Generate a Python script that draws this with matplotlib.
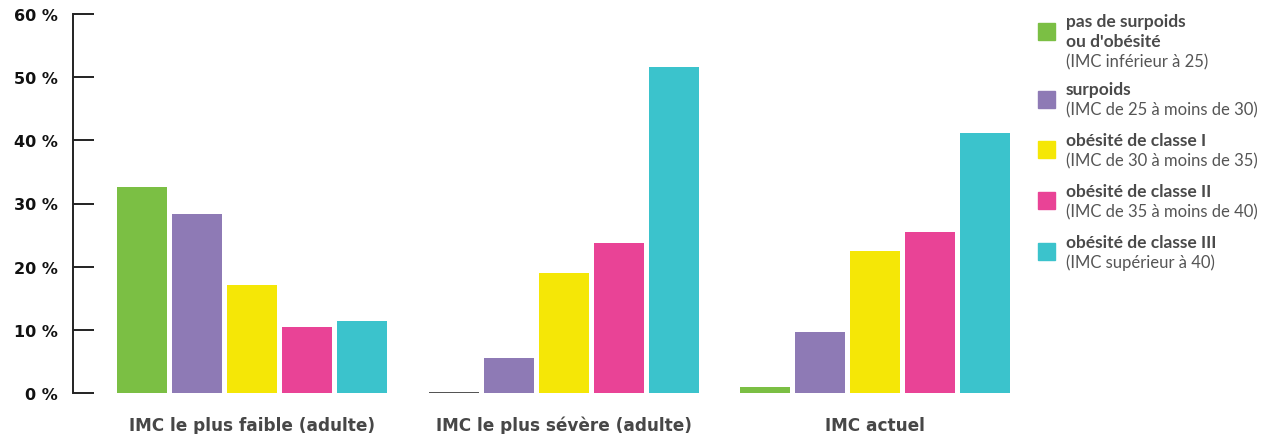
import numpy as np
import matplotlib.pyplot as plt
from matplotlib.patches import Rectangle

# ---- data ------------------------------------------------------------
groups = ["IMC le plus faible (adulte)", "IMC le plus sévère (adulte)", "IMC actuel"]
series_bold = ["pas de surpoids\nou d'obésité", "surpoids", "obésité de classe I",
               "obésité de classe II", "obésité de classe III"]
series_sub = ["(IMC inférieur à 25)", "(IMC de 25 à moins de 30)",
              "(IMC de 30 à moins de 35)", "(IMC de 35 à moins de 40)",
              "(IMC supérieur à 40)"]
colors = ["#7bbf44", "#8e7ab5", "#f5e706", "#e94396", "#3bc3cc"]

pas_surpoids = [32.6, 0.0, 1.0]
surpoids = [28.3, 5.5, 9.6]
classe_1 = [17.1, 19.0, 22.5]
classe_2 = [10.4, 23.7, 25.5]
classe_3 = [11.4, 51.6, 41.1]
values = [pas_surpoids, surpoids, classe_1, classe_2, classe_3]

yticks = [0, 10, 20, 30, 40, 50, 60]

# ---- figure ------------------------------------------------------------
W, H, DPI = 1266, 435, 100
fig = plt.figure(figsize=(W / DPI, H / DPI), dpi=DPI)
plt.rcParams["font.family"] = ["Lato", "DejaVu Sans"]
HEAVY = ["DejaVu Sans"]

ax = fig.add_axes([73 / W, 41 / H, 947 / W, 379 / H])
group_step = 5.67
centers = np.arange(len(groups)) * group_step
for i, vals in enumerate(values):
    x = centers + (i - 2) * 1.0
    ec = ["#333333" if v == 0 else "none" for v in vals]
    ax.bar(x, vals, width=0.91, color=colors[i], edgecolor=ec, linewidth=1.2)

ax.set_xlim(-3.25, 13.97)
ax.set_ylim(0, 60)
ax.set_yticks(yticks)
ax.set_yticklabels([f"{t} %" for t in yticks], fontsize=11.5, fontweight="bold",
                   color="#111111", family=HEAVY)
ax.tick_params(axis="y", direction="in", length=15, width=1.4, pad=11,
               color="#222222")
ax.set_xticks([])
for s in ["top", "right", "bottom"]:
    ax.spines[s].set_visible(False)
ax.spines["left"].set_linewidth(1.4)
ax.spines["left"].set_color("#222222")

for c, g in zip(centers, groups):
    ax.text(c, -5.0, g, ha="center", va="center", fontsize=12.2,
            fontweight="bold", color="#474747", family=HEAVY)

# ---- legend (manual) ---------------------------------------------------
def fx(px):
    return px / W

def fy(py):
    return 1 - py / H

legend_rows = [(32, [22, 42, 62]), (100, [90, 110]), (150, [141, 161]),
               (201, [192, 212]), (252, [243, 263])]
for i, (sq, lines) in enumerate(legend_rows):
    fig.add_artist(Rectangle((fx(1038), fy(sq + 8.5)), 17 / W, 17 / H,
                             transform=fig.transFigure, color=colors[i]))
    bold_lines = series_bold[i].split("\n")
    for j, ln in enumerate(bold_lines):
        fig.text(fx(1066), fy(lines[j]), ln, ha="left", va="center",
                 fontsize=12.5, fontweight="bold", color="#4a4a4a")
    fig.text(fx(1066), fy(lines[-1]), series_sub[i], ha="left", va="center",
             fontsize=12, color="#555555")

fig.savefig("out.png", dpi=DPI)
